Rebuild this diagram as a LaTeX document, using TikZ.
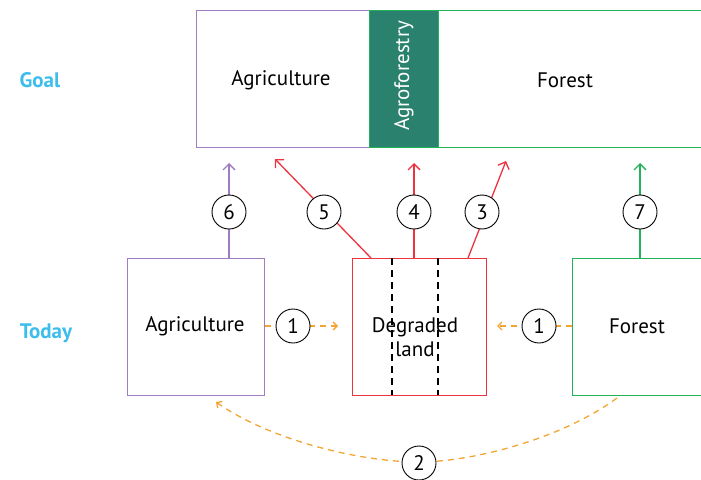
\documentclass[tikz,border=0pt]{standalone}
\usepackage{fontspec}
\setmainfont{PT Sans}
\usetikzlibrary{arrows.meta}
\definecolor{cpurple}{HTML}{A07CC0}
\definecolor{cred}{HTML}{EE3340}
\definecolor{cgreen}{HTML}{22B35A}
\definecolor{cteal}{HTML}{2A826E}
\definecolor{corange}{HTML}{F3A533}
\definecolor{cblue}{HTML}{3DBDEB}
\begin{document}
\begin{tikzpicture}[x=1pt,y=-1pt,
  num/.style={circle,draw=black,line width=0.9pt,fill=white,minimum size=34pt,inner sep=0pt,font=\fontsize{21}{21}\selectfont},
  lbl/.style={font=\fontsize{21}{24}\selectfont},
  side/.style={font=\fontsize{21}{21}\selectfont\bfseries,text=cblue},
  up/.style={line width=1.3pt,-{Straight Barb[length=6pt,width=12pt]}},
  flow/.style={corange,line width=1.3pt,dash pattern=on 6pt off 5pt,-{Straight Barb[length=4pt,width=8pt]}}]
\useasboundingbox (0,0) rectangle (701,479);
% Goal row
\node[draw=cpurple,line width=1.3pt,minimum width=173pt,minimum height=137pt,anchor=north west,inner sep=0pt] (gagri) at (196,10) {};
\node[lbl] at (281,80) {Agriculture};
\node[draw=cgreen,line width=1.3pt,minimum width=270pt,minimum height=137pt,anchor=north west,inner sep=0pt] (gfor) at (438,10) {};
\node[lbl] at (565,80) {Forest};
\node[draw=cgreen,fill=cteal,line width=1.3pt,minimum width=69pt,minimum height=137pt,anchor=north west,inner sep=0pt] (gagro) at (369,10) {};
\node[lbl,text=white,rotate=90] at (404,76) {Agroforestry};
% Side labels
\node[side] (goal) at (40,80) {Goal};
\node[side] (today) at (46,333) {Today};
% Today row
\node[draw=cpurple,line width=1.3pt,minimum width=137pt,minimum height=137pt,anchor=north west,inner sep=0pt] (tagri) at (127,258) {};
\node[lbl] at (195,326) {Agriculture};
\node[draw=cred,line width=1.3pt,minimum width=134pt,minimum height=137pt,anchor=north west,inner sep=0pt] (tdeg) at (352,258) {};
\node[draw=cgreen,line width=1.3pt,minimum width=140pt,minimum height=137pt,anchor=north west,inner sep=0pt] (tfor) at (572,258) {};
\node[lbl] at (637,326) {Forest};
\coordinate (d1t) at (392,258); \coordinate (d1b) at (392,395);
\coordinate (d2t) at (438,258); \coordinate (d2b) at (438,395);
\draw[black,line width=1.3pt,dash pattern=on 7pt off 5pt] (d1t) -- (d1b);
\draw[black,line width=1.3pt,dash pattern=on 7pt off 5pt] (d2t) -- (d2b);
\node[lbl,align=center] (deglbl) at (415,337) {Degraded\\land};
% upward arrows
\coordinate (a6s) at (229,258); \coordinate (a6e) at (229,163);
\coordinate (a5s) at (371,258); \coordinate (a5e) at (275,159);
\coordinate (a4s) at (414,258); \coordinate (a4e) at (414,163);
\coordinate (a3s) at (468,258); \coordinate (a3e) at (506,161);
\coordinate (a7s) at (640,258); \coordinate (a7e) at (640,163);
\draw[up,cpurple] (a6s) -- (a6e);
\draw[up,cred] (a5s) -- (a5e);
\draw[up,cred] (a4s) -- (a4e);
\draw[up,cred] (a3s) -- (a3e);
\draw[up,cgreen] (a7s) -- (a7e);
\node[num] (n6) at (229,212) {6};
\node[num] (n5) at (324,212) {5};
\node[num] (n4) at (414,212) {4};
\node[num] (n3) at (482,212) {3};
\node[num] (n7) at (640,212) {7};
% orange flows
\coordinate (f1e) at (338,326);
\coordinate (f2e) at (497,326);
\draw[flow] (tagri.east |- 0,326) -- (f1e);
\draw[flow] (tfor.west |- 0,326) -- (f2e);
\node[num] (n1a) at (293,326) {1};
\node[num] (n1b) at (539,326) {1};
\coordinate (c2s) at (617,398);
\coordinate (c2e) at (216,402);
\draw[flow] (c2s) .. controls (560,440) and (470,462) .. (419,462) .. controls (360,462) and (270,440) .. (c2e);
\node[num] (n2) at (419,463) {2};
\end{tikzpicture}
\end{document}
